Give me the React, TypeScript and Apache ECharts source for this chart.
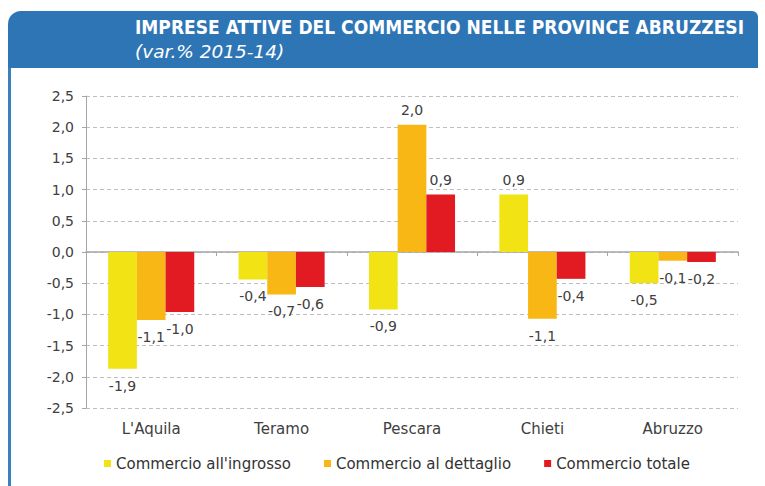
import React, { useEffect, useRef } from "react";
import * as echarts from "echarts";

const categories = ["L'Aquila", "Teramo", "Pescara", "Chieti", "Abruzzo"];
const seriesNames = ["Commercio all'ingrosso", "Commercio al dettaglio", "Commercio totale"];
const wholesale = [-1.87, -0.44, -0.92, 0.92, -0.5];
const retail = [-1.09, -0.68, 2.04, -1.07, -0.14];
const total = [-0.96, -0.56, 0.92, -0.43, -0.16];
const colors = ["#F1E314", "#F9B716", "#E21B23"];

const titleText = "IMPRESE ATTIVE DEL COMMERCIO NELLE PROVINCE ABRUZZESI";
const subtitleText = "(var.% 2015-14)";

const fmt = (v: number) => v.toFixed(1).replace(".", ",");
const FONT = "'DejaVu Sans', sans-serif";

function makeSeries(name: string, values: number[], color: string) {
  return {
    name,
    type: "bar",
    xAxisIndex: 0,
    barGap: "0%",
    barCategoryGap: "34%",
    itemStyle: { color },
    data: values.map((v) => ({
      value: v,
      label: {
        show: true,
        position: v >= 0 ? "top" : "bottom",
        distance: v >= 0 ? 8 : 10,
        formatter: () => fmt(v),
        color: "#404040",
        fontSize: 14,
        fontFamily: FONT,
      },
    })),
  };
}

export default function App() {
  const ref = useRef<HTMLDivElement>(null);
  useEffect(() => {
    if (!ref.current) return;
    const chart = echarts.init(ref.current, null, { renderer: "svg" });
    chart.setOption({
      animation: false,
      backgroundColor: "#ffffff",
      graphic: [
        {
          type: "rect",
          shape: { x: 8, y: 11, width: 750, height: 57, r: [13, 6, 0, 0] },
          style: { fill: "#2E75B6" },
        },
        {
          type: "rect",
          shape: { x: 8, y: 68, width: 3, height: 418 },
          style: { fill: "#3A7FC0" },
        },
        {
          type: "text",
          x: 135,
          y: 27,
          style: {
            text: titleText,
            fill: "#ffffff",
            fontSize: 19,
            fontWeight: "bold",
            fontFamily: "'DejaVu Sans Condensed', 'DejaVu Sans', sans-serif",
            verticalAlign: "middle",
          },
        },
        {
          type: "text",
          x: 135,
          y: 51,
          style: {
            text: subtitleText,
            fill: "#ffffff",
            fontSize: 18.5,
            fontStyle: "italic",
            fontFamily: "'DejaVu Sans', sans-serif",
            verticalAlign: "middle",
          },
        },
      ],
      grid: { left: 86, right: 27, top: 96, bottom: 78, containLabel: false },
      legend: {
        left: 99,
        top: 451,
        itemWidth: 7,
        itemHeight: 7,
        itemGap: 33,
        icon: "rect",
        textStyle: { color: "#333333", fontSize: 15, fontFamily: FONT },
        data: seriesNames,
      },
      xAxis: [
        {
          type: "category",
          data: categories,
          axisLine: { onZero: true, lineStyle: { color: "#A6A6A6", width: 1.5 } },
          axisTick: { show: true, length: 4, lineStyle: { color: "#A6A6A6" } },
          axisLabel: { show: false },
        },
        {
          type: "category",
          data: categories,
          position: "bottom",
          axisLine: { show: false, onZero: false },
          axisTick: { show: false },
          axisLabel: { show: true, color: "#404040", fontSize: 15, fontFamily: FONT, margin: 13 },
        },
      ],
      yAxis: {
        type: "value",
        min: -2.5,
        max: 2.5,
        interval: 0.5,
        axisLine: { show: true, lineStyle: { color: "#A6A6A6" } },
        axisTick: { show: true, length: 4, lineStyle: { color: "#A6A6A6" } },
        axisLabel: {
          color: "#404040",
          fontSize: 14,
          fontFamily: FONT,
          margin: 12,
          formatter: (v: number) => fmt(v),
        },
        splitLine: { show: true, lineStyle: { color: "#BFBFBF", type: [4, 3] } },
      },
      series: [
        makeSeries(seriesNames[0], wholesale, colors[0]),
        makeSeries(seriesNames[1], retail, colors[1]),
        makeSeries(seriesNames[2], total, colors[2]),
      ],
    });
    return () => chart.dispose();
  }, []);
  return (
    <div
      ref={ref}
      style={{ position: "fixed", left: 0, top: 0, width: 765, height: 486 }}
    />
  );
}
